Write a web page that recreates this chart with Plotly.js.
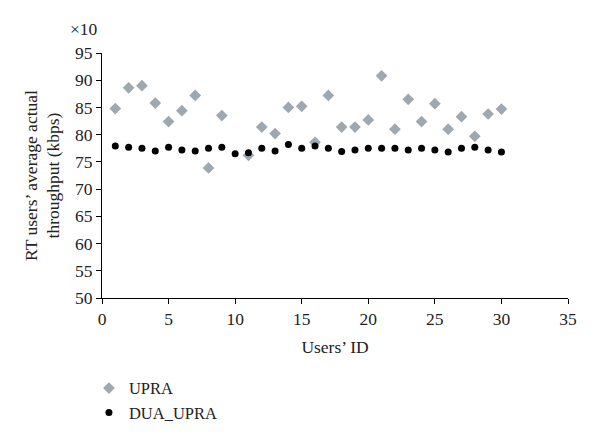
<!DOCTYPE html>
<html>
<head>
<meta charset="utf-8">
<script src="https://cdn.plot.ly/plotly-3.0.1.min.js"></script>
<style>html,body{margin:0;padding:0;background:#fff;}#chart{width:600px;height:441px;}</style>
</head>
<body>
<div id="chart"></div>
<script>
const userIds = [1,2,3,4,5,6,7,8,9,10,11,12,13,14,15,16,17,18,19,20,21,22,23,24,25,26,27,28,29,30];
const upra = [84.8,88.6,89.0,85.8,82.4,84.4,87.2,73.9,83.5,null,76.2,81.4,80.2,85.0,85.2,78.6,87.2,81.4,81.4,82.7,90.8,81.0,86.5,82.4,85.7,81.0,83.3,79.7,83.8,84.7];
const duaUpra = [77.9,77.7,77.5,77.0,77.7,77.2,77.0,77.5,77.7,76.5,76.7,77.5,77.0,78.2,77.5,77.9,77.5,76.9,77.2,77.5,77.5,77.5,77.2,77.5,77.2,76.8,77.5,77.7,77.2,76.8];
const yTicks = [50,55,60,65,70,75,80,85,90,95];
const xTicks = [0,5,10,15,20,25,30,35];

const font = {family: 'Liberation Serif, Times New Roman, serif', size: 17.5, color: '#222'};
const legendFont = {family: 'Liberation Serif, Times New Roman, serif', size: 16.5, color: '#222'};

const traces = [
  {x: userIds, y: upra, name: 'UPRA', mode: 'markers', type: 'scatter',
   marker: {symbol: 'diamond', size: 9, color: '#9ea8ae'}},
  {x: userIds, y: duaUpra, name: 'DUA_UPRA', mode: 'markers', type: 'scatter',
   marker: {symbol: 'circle', size: 7, color: '#000'}}
];

const layout = {
  width: 600, height: 441,
  margin: {l: 102, r: 32, t: 53, b: 142},
  paper_bgcolor: '#fff', plot_bgcolor: '#fff',
  font: font,
  showlegend: true,
  legend: {x: -0.028, y: -0.292, xanchor: 'left', yanchor: 'top', borderwidth: 0,
           orientation: 'v', font: legendFont, tracegroupgap: 0, itemsizing: 'trace', itemwidth: 30},
  xaxis: {range: [0, 35], tickvals: xTicks, ticktext: xTicks.map(String),
          showgrid: false, zeroline: false, showline: true, linecolor: '#000', linewidth: 1,
          ticks: 'outside', ticklen: 5, tickcolor: '#000', tickfont: font,
          title: {text: 'Users’ ID', font: font, standoff: 12}},
  yaxis: {range: [50, 95], tickvals: yTicks, ticktext: yTicks.map(String),
          showgrid: false, zeroline: false, showline: true, linecolor: '#000', linewidth: 1,
          ticks: 'outside', ticklen: 5, tickcolor: '#000', tickfont: font,
          title: {text: 'RT users’ average actual<br>throughput (kbps)', font: font, standoff: 10}},
  annotations: [{text: '×10', xref: 'paper', yref: 'paper', x: -0.005, y: 1.05,
                 xanchor: 'right', yanchor: 'bottom', showarrow: false, font: font}]
};

Plotly.newPlot('chart', traces, layout, {displayModeBar: false, staticPlot: true});
</script>
</body>
</html>
